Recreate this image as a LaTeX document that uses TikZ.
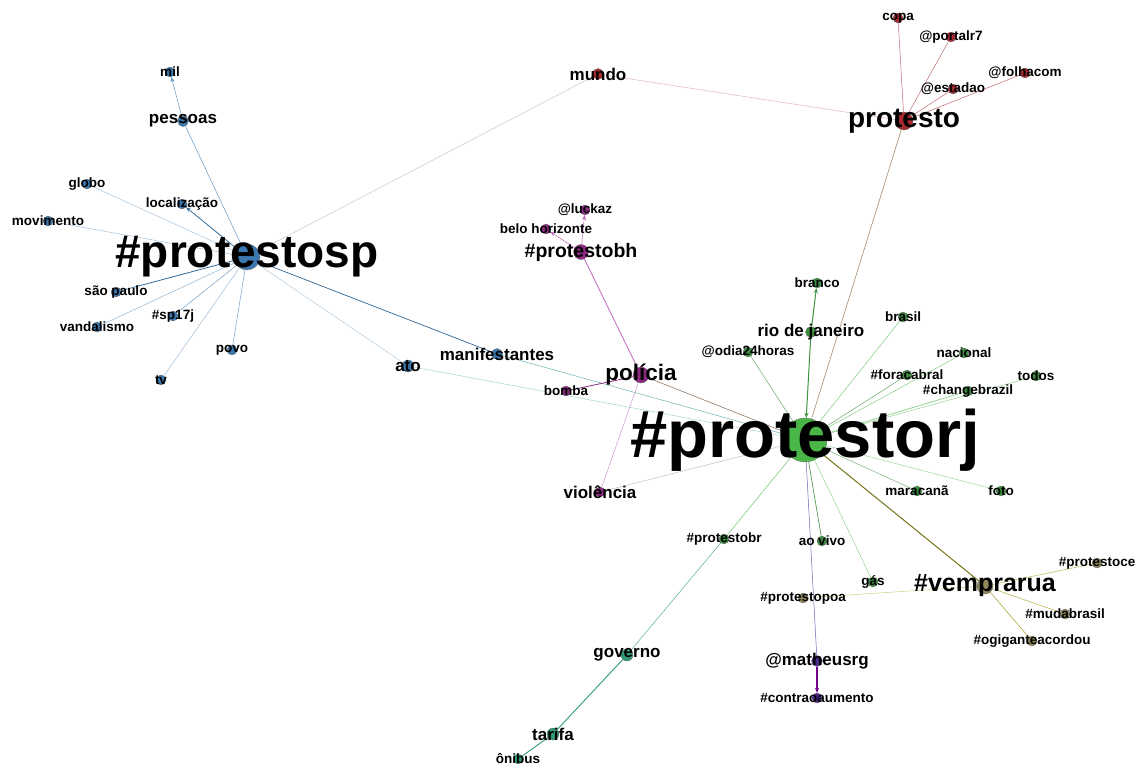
\documentclass[tikz,border=0pt]{standalone}
\usepackage{fontspec}
\setmainfont{Liberation Sans}
\usepackage{tikz}
\usetikzlibrary{arrows.meta, backgrounds}

\definecolor{spblue}{HTML}{3A78AF}
\definecolor{rjgreen}{HTML}{4AB648}
\definecolor{dkgreen}{HTML}{3E8E41}
\definecolor{ptred}{HTML}{A52A2F}
\definecolor{bhpurple}{HTML}{8E2A82}
\definecolor{bhedge}{HTML}{C266B8}
\definecolor{vemolive}{HTML}{8E875A}
\definecolor{mtviolet}{HTML}{4B2A8A}
\definecolor{govteal}{HTML}{2E9A73}

\begin{document}
\begin{tikzpicture}[x=1pt, y=-1pt,
  vtx/.style={circle, draw=black!60, line width=0.3pt, inner sep=0pt, minimum size=10pt},
  spv/.style={vtx, fill=spblue},
  rjv/.style={vtx, fill=dkgreen},
  ptv/.style={vtx, fill=ptred},
  bhv/.style={vtx, fill=bhpurple},
  vmv/.style={vtx, fill=vemolive},
  mtv/.style={vtx, fill=mtviolet},
  gvv/.style={vtx, fill=govteal},
  sm/.style={font=\fontsize{13.5}{14}\selectfont\bfseries, text=black},
  md/.style={font=\fontsize{17}{18}\selectfont\bfseries, text=black},
  e/.style={line width=0.5pt},
  arr/.style={-{Stealth[length=5pt, width=4pt]}}
]
\useasboundingbox (0,0) rectangle (1137,769);

% --- #protestosp cluster
\node[spv, minimum size=26pt, label={[font=\fontsize{46}{46}\selectfont\bfseries]center:\#protestosp}] (protestosp) at (247,257) {};
\node[spv, label={[sm]center:mil}] (mil) at (170,72) {};
\node[spv, minimum size=11pt, label={[md]center:pessoas}] (pessoas) at (183,121) {};
\node[spv, label={[sm]center:globo}] (globo) at (87,184) {};
\node[spv, label={[sm]center:localização}] (localizacao) at (182,204) {};
\node[spv, label={[sm]center:movimento}] (movimento) at (48,221) {};
\node[spv, label={[sm]center:são paulo}] (saopaulo) at (116,292) {};
\node[spv, label={[sm]center:\#sp17j}] (sp17j) at (173,316) {};
\node[spv, label={[sm]center:vandalismo}] (vandalismo) at (97,327) {};
\node[spv, label={[sm]center:povo}] (povo) at (232,350) {};
\node[spv, label={[sm]center:tv}] (tv) at (161,380) {};
\node[spv, minimum size=12pt, label={[md]center:ato}] (ato) at (408,366) {};
\node[spv, minimum size=11pt, label={[md]center:manifestantes}] (manifestantes) at (497,354) {};

% --- protesto cluster
\node[ptv, minimum size=18pt, label={[font=\fontsize{28}{28}\selectfont\bfseries]center:protesto}] (protesto) at (904,121) {};
\node[ptv, minimum size=11pt, label={[md]center:mundo}] (mundo) at (598,74) {};
\node[ptv, label={[sm]center:copa}] (copa) at (898,18) {};
\node[ptv, label={[sm]center:@portalr7}] (portalr) at (951,37) {};
\node[ptv, label={[sm]center:@estadao}] (estadao) at (953,89) {};
\node[ptv, label={[sm]center:@folhacom}] (folhacom) at (1025,73) {};

% --- policia cluster
\node[bhv, minimum size=15pt, label={[font=\fontsize{19.5}{20}\selectfont\bfseries]center:\#protestobh}] (protestobh) at (581,252) {};
\node[bhv, label={[sm]center:@luckaz}] (luckaz) at (585,210) {};
\node[bhv, label={[sm]center:belo horizonte}] (beloh) at (546,229) {};
\node[bhv, minimum size=16pt, label={[font=\fontsize{22.5}{23}\selectfont\bfseries]center:polícia}] (policia) at (641,375) {};
\node[bhv, label={[sm]center:bomba}] (bomba) at (566,391) {};
\node[bhv, label={[md]center:violência}] (violencia) at (600,492) {};

% --- #protestorj cluster
\node[vtx, fill=rjgreen, minimum size=44pt, label={[font=\fontsize{67}{67}\selectfont\bfseries]center:\#protestorj}] (protestorj) at (805,440) {};
\node[rjv, label={[sm]center:branco}] (branco) at (817,283) {};
\node[rjv, minimum size=11pt, label={[md]center:rio de janeiro}] (riodj) at (811,332) {};
\node[rjv, label={[sm]center:@odia24horas}] (odia) at (748,352) {};
\node[rjv, label={[sm]center:brasil}] (brasil) at (903,317) {};
\node[rjv, label={[sm]center:nacional}] (nacional) at (964,353) {};
\node[rjv, label={[sm]center:\#foracabral}] (foracabral) at (907,375) {};
\node[rjv, label={[sm]center:todos}] (todos) at (1036,376) {};
\node[rjv, label={[sm]center:\#changebrazil}] (changebrazil) at (968,391) {};
\node[rjv, label={[sm]center:maracanã}] (maracana) at (917,491) {};
\node[rjv, label={[sm]center:foto}] (foto) at (1001,491) {};
\node[rjv, label={[sm]center:\#protestobr}] (protestobr) at (724,539) {};
\node[rjv, label={[sm]center:ao vivo}] (aovivo) at (822,541) {};
\node[rjv, label={[sm]center:gás}] (gas) at (873,582) {};
\node[gvv, minimum size=12pt, label={[md]center:governo}] (governo) at (627,655) {};
\node[gvv, minimum size=12pt, label={[md]center:tarifa}] (tarifa) at (553,734) {};
\node[gvv, label={[sm]center:ônibus}] (onibus) at (518,759) {};

% --- #vemprarua cluster
\node[vmv, minimum size=16pt, label={[font=\fontsize{25}{25}\selectfont\bfseries]center:\#vemprarua}] (vemprarua) at (985,586) {};
\node[vmv, label={[sm]center:\#protestoce}] (protestoce) at (1097,563) {};
\node[vmv, label={[sm]center:\#mudabrasil}] (mudabrasil) at (1065,614) {};
\node[vmv, label={[sm]center:\#ogiganteacordou}] (ogigante) at (1032,641) {};
\node[vmv, label={[sm]center:\#protestopoa}] (protestopoa) at (803,598) {};
\node[mtv, minimum size=11pt, label={[md]center:@matheusrg}] (matheusrg) at (817,661) {};
\node[mtv, label={[sm]center:\#contraoaumento}] (contra) at (817,698) {};

\begin{scope}[on background layer]
  % sp edges
  \draw[e, draw=spblue!80] (protestosp) -- (pessoas);
  \draw[e, draw=spblue!80, arr] (pessoas) -- (mil);
  \draw[e, draw=spblue!45] (protestosp) -- (globo);
  \draw[e, draw=spblue!45] (protestosp) -- (movimento);
  \draw[e, draw=spblue!90!black, line width=0.8pt, arr] (protestosp) -- (localizacao);
  \draw[e, draw=spblue!90!black, line width=0.8pt] (protestosp) -- (saopaulo);
  \draw[e, draw=spblue!70] (protestosp) -- (sp17j);
  \draw[e, draw=spblue!55] (protestosp) -- (vandalismo);
  \draw[e, draw=spblue!70] (protestosp) -- (povo);
  \draw[e, draw=spblue!50] (protestosp) -- (tv);
  \draw[e, draw=spblue!40] (protestosp) -- (ato);
  \draw[e, draw=spblue!85!black, line width=0.7pt] (protestosp) -- (manifestantes);
  \draw[e, draw=black!22] (protestosp) -- (mundo);
  \draw[e, draw=teal!60] (manifestantes) -- (protestorj);
  \draw[e, draw=teal!35] (ato) -- (protestorj);
  % protesto edges
  \draw[e, draw=ptred!35] (mundo) -- (protesto);
  \draw[e, draw=ptred!70] (protesto) -- (copa);
  \draw[e, draw=ptred!70] (protesto) -- (portalr);
  \draw[e, draw=ptred!70] (protesto) -- (estadao);
  \draw[e, draw=ptred!70] (protesto) -- (folhacom);
  \draw[e, draw=brown!70!black!70, line width=0.6pt] (protesto) -- (protestorj);
  % policia edges
  \draw[e, draw=bhedge, arr] (protestobh) -- (luckaz);
  \draw[e, draw=bhedge, arr] (protestobh) -- (beloh);
  \draw[e, draw=bhedge, line width=0.8pt] (protestobh) -- (policia);
  \draw[e, draw=bhpurple, line width=0.8pt] (policia) -- (bomba);
  \draw[e, draw=bhedge!70] (policia) -- (violencia);
  \draw[e, draw=brown!50!black!70, line width=0.6pt] (policia) -- (protestorj);
  \draw[e, draw=black!25] (violencia) -- (protestorj);
  % protestorj edges
  \draw[e, draw=rjgreen!80!black, line width=1pt, arr] (riodj) -- (branco);
  \draw[e, draw=rjgreen!80!black, line width=1pt, arr] (riodj) -- (protestorj);
  \draw[e, draw=dkgreen!80] (protestorj) -- (odia);
  \draw[e, draw=rjgreen!70] (protestorj) -- (brasil);
  \draw[e, draw=rjgreen!70] (protestorj) -- (nacional);
  \draw[e, draw=dkgreen!80] (protestorj) -- (foracabral);
  \draw[e, draw=rjgreen!60, line width=0.8pt] (protestorj) -- (changebrazil);
  \draw[e, draw=rjgreen!60] (protestorj) -- (todos);
  \draw[e, draw=dkgreen!70] (protestorj) -- (maracana);
  \draw[e, draw=rjgreen!55] (protestorj) -- (foto);
  \draw[e, draw=rjgreen!80] (protestorj) -- (protestobr);
  \draw[e, draw=dkgreen!90, line width=0.7pt] (protestorj) -- (aovivo);
  \draw[e, draw=rjgreen!60] (protestorj) -- (gas);
  \draw[e, draw=black!45!blue!60] (protestorj) -- (matheusrg);
  \draw[e, draw=olive!80!black, line width=1pt] (protestorj) -- (vemprarua);
  \draw[e, draw=govteal!80] (protestobr) -- (governo);
  \draw[e, draw=govteal, line width=0.9pt] (governo) -- (tarifa);
  \draw[e, draw=govteal, line width=0.9pt] (tarifa) -- (onibus);
  \draw[e, draw=violet!90!blue, line width=1.2pt, arr] (matheusrg) -- (contra);
  % vemprarua edges
  \draw[e, draw=olive!60] (vemprarua) -- (protestoce);
  \draw[e, draw=olive!70] (vemprarua) -- (mudabrasil);
  \draw[e, draw=olive!80] (vemprarua) -- (ogigante);
  \draw[e, draw=olive!40] (vemprarua) -- (protestopoa);
\end{scope}
\end{tikzpicture}
\end{document}
